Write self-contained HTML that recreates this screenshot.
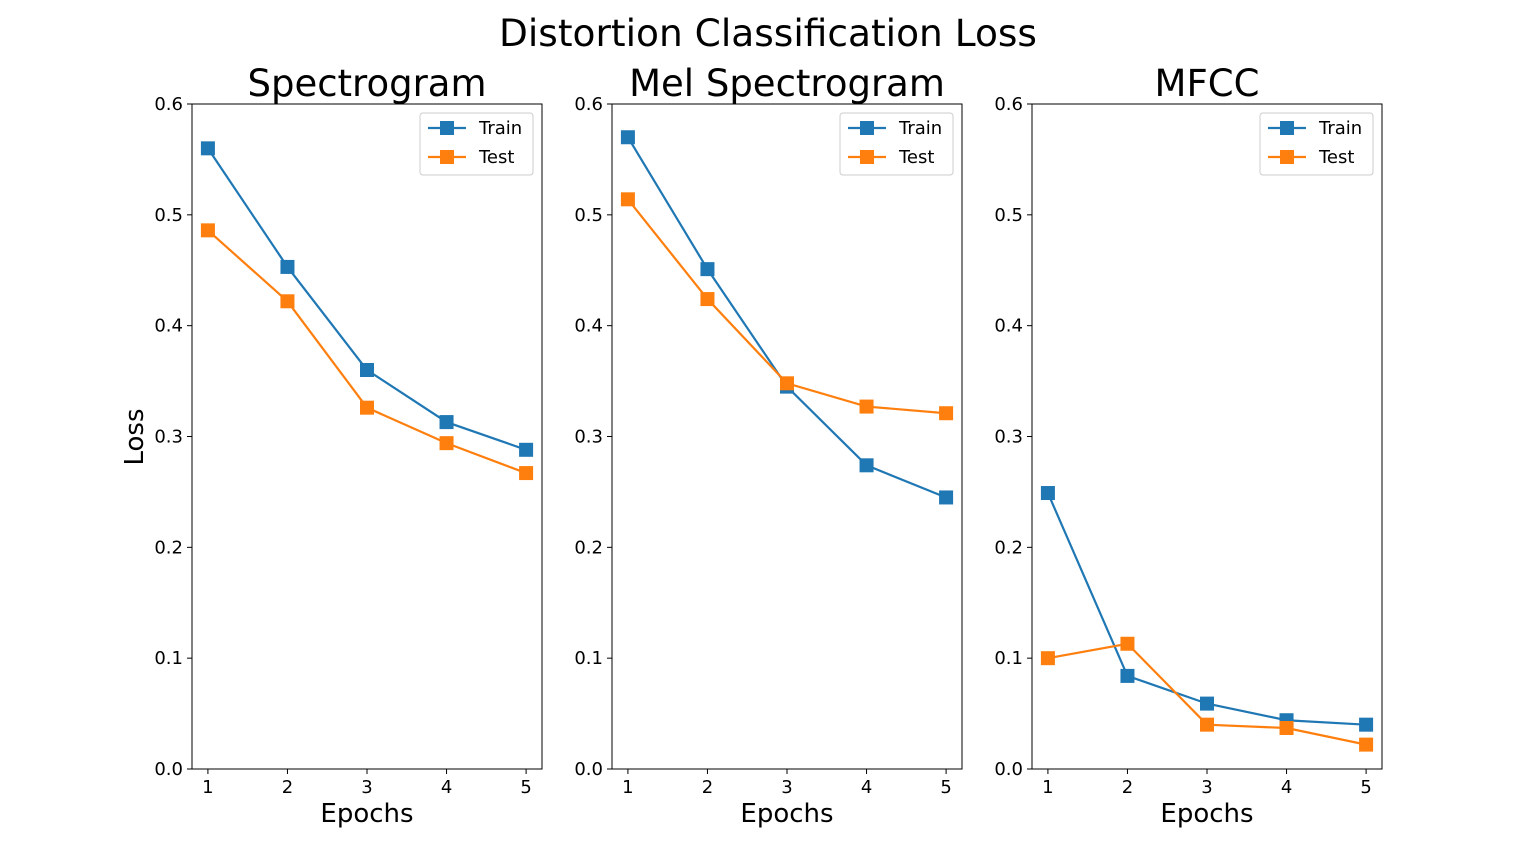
<!DOCTYPE html>
<html><head><meta charset="utf-8"><style>
body{margin:0;background:#fff;}
svg{display:block;font-family:"DejaVu Sans","Liberation Sans",sans-serif;}
</style></head><body>
<svg id="chart" width="1536" height="864">
<text x="768" y="46" font-size="37.5" text-anchor="middle">Distortion Classification Loss</text>
</svg>
<script>
const panelTitles=["Spectrogram","Mel Spectrogram","MFCC"];
const epochs=[1,2,3,4,5];
const trainLoss=[[0.560,0.453,0.360,0.313,0.288],[0.570,0.451,0.345,0.274,0.245],[0.249,0.084,0.059,0.044,0.040]];
const testLoss=[[0.486,0.422,0.326,0.294,0.267],[0.514,0.424,0.348,0.327,0.321],[0.100,0.113,0.040,0.037,0.022]];
const yTicks=[0.0,0.1,0.2,0.3,0.4,0.5,0.6];
const seriesNames=["Train","Test"];
const colors=["#1f77b4","#ff7f0e"];
const NS="http://www.w3.org/2000/svg";
const svgEl=document.getElementById("chart");
function mk(tag,attrs,parent,text){const e=document.createElementNS(NS,tag);for(const k in attrs)e.setAttribute(k,attrs[k]);if(text!==undefined)e.textContent=text;(parent||svgEl).appendChild(e);return e;}
const lefts=[192,612,1032],W=350,topY=104,botY=769;
lefts.forEach((L,p)=>{
  const g=mk("g",{});
  
  
  const xs=v=>L+(v-0.8)/4.4*W;
  const ys=v=>botY-(v/0.6)*(botY-topY);
  const t=mk("text",{x:L+W/2,y:96,"font-size":37,"text-anchor":"middle"},g,panelTitles[p]);
  
  
  yTicks.forEach(v=>{mk("line",{x1:L-5,x2:L,y1:ys(v),y2:ys(v),stroke:"#000"},g);
    const tl=mk("text",{x:L-9,y:ys(v)+6,"font-size":18,"text-anchor":"end"},g,v.toFixed(1));
    
    });
  epochs.forEach(v=>{mk("line",{x1:xs(v),x2:xs(v),y1:botY,y2:botY+5,stroke:"#000"},g);
    const tl=mk("text",{x:xs(v),y:botY+24,"font-size":18,"text-anchor":"middle"},g,String(v));
    
    });
  const xl=mk("text",{x:L+W/2,y:822,"font-size":26,"text-anchor":"middle"},g,"Epochs");
  
  
  [trainLoss[p],testLoss[p]].forEach((data,s)=>{
    const pts=data.map((v,i)=>xs(epochs[i])+","+ys(v)).join(" ");
    const pl=mk("polyline",{points:pts,fill:"none",stroke:colors[s],"stroke-width":2.2},g);
    
    
    data.forEach((v,i)=>{const r=mk("rect",{x:xs(epochs[i])-7,y:ys(v)-7,width:14,height:14,fill:colors[s]},g);
      
      });
  });
  mk("rect",{x:L,y:topY,width:W,height:botY-topY,fill:"none",stroke:"#000","stroke-width":1},g);
  const lg=mk("g",{},g);
  
  
  const lx=L+W-122;
  mk("rect",{x:lx,y:113,width:113,height:62,rx:3,fill:"#fff",stroke:"#ccc"},lg);
  seriesNames.forEach((n,s)=>{const yy=128+s*29;
    mk("line",{x1:lx+8,x2:lx+46,y1:yy,y2:yy,stroke:colors[s],"stroke-width":2.2},lg);
    mk("rect",{x:lx+20,y:yy-7,width:14,height:14,fill:colors[s]},lg);
    const e=mk("text",{x:lx+59,y:yy+6,"font-size":18},lg,n);
    
    });
});
const yl=mk("text",{x:0,y:0,"font-size":26,"text-anchor":"middle",transform:"translate(143,437) rotate(-90)"},svgEl,"Loss");


</script>
</body></html>
